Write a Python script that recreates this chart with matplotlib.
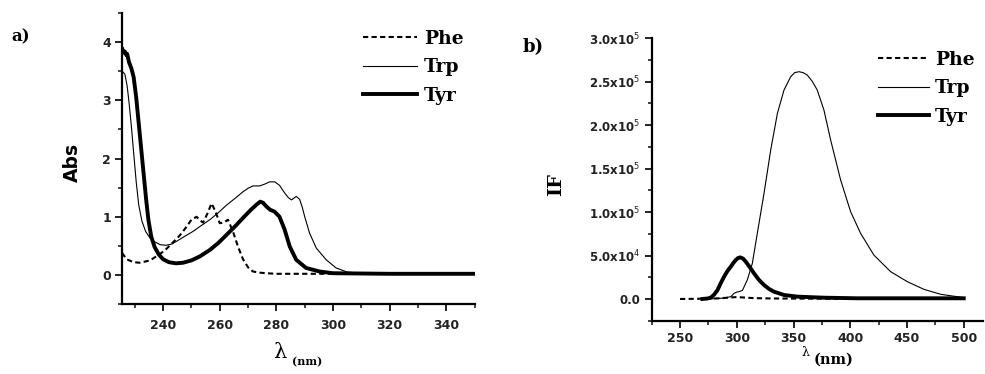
import matplotlib.pyplot as plt
from matplotlib.ticker import MultipleLocator, FuncFormatter

# ---- panel a: absorbance ----
phe_a_nm = [225.5, 227.1, 229.5, 231.8, 235.4, 238.9, 241.2, 243.5, 245.9, 248.3,
            250.0, 251.8, 253.0, 254.1, 255.6, 257.1, 258.4, 260.0, 261.5, 262.9,
            264.7, 266.5, 268.2, 270.0, 271.7, 274.0, 276.4, 280.0, 300.0, 325.0, 350.0]
phe_a = [0.38, 0.27, 0.22, 0.21, 0.25, 0.36, 0.45, 0.56, 0.68, 0.83,
         0.95, 1.00, 0.94, 0.90, 1.05, 1.23, 1.10, 0.89, 0.90, 0.95,
         0.74, 0.48, 0.27, 0.13, 0.06, 0.04, 0.03, 0.02, 0.02, 0.02, 0.02]

trp_a_nm = [225.6, 226.5, 227.3, 228.0, 228.8, 229.6, 230.5, 231.4, 232.5, 233.8,
            235.3, 237.0, 239.0, 241.0, 243.0, 244.8, 247.5, 250.6, 253.5, 256.5,
            259.5, 262.4, 265.5, 268.2, 270.0, 271.7, 274.1, 275.8, 277.6, 279.4,
            281.1, 282.9, 284.2, 285.3, 286.2, 287.0, 288.2, 289.1, 290.0, 291.7,
            294.1, 297.6, 301.1, 305.0, 310.0, 330.0, 350.0]
trp_a = [3.50, 3.45, 3.25, 2.95, 2.55, 2.10, 1.60, 1.20, 0.93, 0.75,
         0.64, 0.57, 0.52, 0.51, 0.53, 0.58, 0.66, 0.75, 0.85, 0.95,
         1.07, 1.20, 1.32, 1.43, 1.49, 1.53, 1.53, 1.56, 1.60, 1.60,
         1.54, 1.41, 1.33, 1.29, 1.32, 1.35, 1.30, 1.17, 1.00, 0.72,
         0.46, 0.26, 0.12, 0.05, 0.03, 0.02, 0.02]

tyr_a_nm = [225.6, 226.0, 226.5, 227.0, 227.3, 228.0, 228.8, 229.6, 230.5, 231.4,
            232.3, 233.2, 234.0, 234.8, 235.8, 237.0, 238.5, 240.0, 242.0, 244.5,
            247.0, 250.0, 253.0, 256.5, 259.5, 262.4, 265.5, 268.2, 271.0, 273.0,
            274.3, 275.3, 276.4, 277.8, 279.3, 281.1, 282.9, 284.7, 287.0, 290.5,
            295.2, 300.0, 320.0, 350.0]
tyr_a = [3.88, 3.82, 3.84, 3.78, 3.80, 3.65, 3.55, 3.40, 3.05, 2.60,
         2.15, 1.70, 1.30, 0.95, 0.66, 0.48, 0.35, 0.27, 0.22, 0.20,
         0.21, 0.25, 0.32, 0.43, 0.55, 0.69, 0.84, 0.98, 1.12, 1.21,
         1.26, 1.24, 1.18, 1.12, 1.09, 1.00, 0.78, 0.49, 0.26, 0.12,
         0.06, 0.03, 0.02, 0.02]

# ---- panel b: fluorescence intensity ----
phe_b_nm = [250, 270, 285, 295, 300, 305, 315, 330, 360, 400, 450, 500]
phe_b = [0, 300, 800, 1800, 2200, 1800, 1000, 600, 400, 300, 200, 100]

trp_b_nm = [271.0, 280.0, 288.8, 294.7, 297.6, 300.0, 302.0, 305.0, 309.3, 313.7,
            318.1, 324.0, 329.9, 335.8, 341.6, 347.5, 351.0, 354.8, 358.5, 362.1,
            366.5, 370.9, 376.8, 382.7, 391.5, 400.3, 409.1, 420.8, 435.5, 450.2,
            464.9, 479.7, 500.2]
trp_b = [0, 300, 1000, 2700, 6500, 8000, 8400, 10000, 22000, 41000,
         75600, 121600, 171500, 213700, 240500, 255800, 260500, 261600, 260500, 257800,
         250500, 240500, 217500, 183000, 137000, 100500, 75600, 50600, 31500, 20000,
         11100, 5400, 1500]

tyr_b_nm = [269.7, 274.0, 277.0, 280.0, 282.9, 285.8, 288.8, 291.7, 294.7, 297.0,
            299.1, 301.0, 303.0, 305.5, 307.9, 311.5, 315.2, 319.5, 324.0, 328.5,
            332.8, 341.6, 353.3, 376.8, 406.2, 450.0, 500.0]
tyr_b = [0, 500, 1500, 5000, 10000, 18000, 25700, 32000, 37200, 41500,
         44900, 47000, 47900, 46500, 43000, 36500, 29500, 22000, 16100, 11500,
         8400, 4600, 2700, 1500, 800, 800, 800]

serif = 'DejaVu Serif'

fig = plt.figure(figsize=(9.85, 3.74), dpi=100)
ax1 = fig.add_axes([0.1239, 0.187, 0.358, 0.778])
ax2 = fig.add_axes([0.6616, 0.1425, 0.3364, 0.755])

for ax in (ax1, ax2):
    ax.spines['top'].set_visible(False)
    ax.spines['right'].set_visible(False)
    ax.spines['left'].set_linewidth(1.6)
    ax.spines['bottom'].set_linewidth(1.6)
    ax.tick_params(which='major', direction='out', length=5, width=1.4, colors='#222222')
    ax.tick_params(which='minor', direction='out', length=3, width=1.2, colors='#222222')
    for lab in ax.get_xticklabels() + ax.get_yticklabels():
        lab.set_fontweight('bold')

# panel a
ax1.plot(phe_a_nm, phe_a, color='black', lw=1.5, ls=(0, (2.5, 1.6)), label='Phe')
ax1.plot(trp_a_nm, trp_a, color='black', lw=0.8, label='Trp')
ax1.plot(tyr_a_nm, tyr_a, color='black', lw=2.8, label='Tyr')
ax1.set_xlim(225.5, 350)
ax1.set_ylim(-0.5, 4.5)
ax1.xaxis.set_major_locator(MultipleLocator(20))
ax1.xaxis.set_minor_locator(MultipleLocator(10))
ax1.yaxis.set_major_locator(MultipleLocator(1))
ax1.yaxis.set_minor_locator(MultipleLocator(0.5))
ax1.tick_params(axis='x', which='major', pad=6, labelsize=9)
ax1.tick_params(axis='y', which='major', pad=3, labelsize=9)
for lab in ax1.get_xticklabels() + ax1.get_yticklabels():
    lab.set_fontweight('bold')

# panel b
ax2.plot(phe_b_nm, phe_b, color='black', lw=1.5, ls=(0, (2.5, 1.6)), label='Phe')
ax2.plot(trp_b_nm, trp_b, color='black', lw=0.8, label='Trp')
ax2.plot(tyr_b_nm, tyr_b, color='black', lw=2.8, label='Tyr')
ax2.set_xlim(225, 517)
ax2.set_ylim(-25000, 300000)
ax2.xaxis.set_major_locator(MultipleLocator(50))
ax2.xaxis.set_minor_locator(MultipleLocator(25))
ax2.yaxis.set_major_locator(MultipleLocator(50000))
ax2.yaxis.set_minor_locator(MultipleLocator(25000))


def sci_fmt(v, pos):
    if abs(v) < 1:
        return '0.0'
    exp = len(str(int(v))) - 1
    return '%.1fx10$^{%d}$' % (v / 10 ** exp, exp)


ax2.yaxis.set_major_formatter(FuncFormatter(sci_fmt))
ax2.tick_params(axis='x', which='major', pad=3, labelsize=9)
ax2.tick_params(axis='y', which='major', pad=3, labelsize=8.5)
for lab in ax2.get_xticklabels() + ax2.get_yticklabels():
    lab.set_fontweight('bold')

# legends
leg_kw = dict(frameon=False, loc='upper left', borderpad=0, borderaxespad=0,
              handletextpad=0.35, labelspacing=0.55,
              prop={'family': serif, 'weight': 'bold', 'size': 13.5},
              bbox_transform=fig.transFigure)
ax1.legend(handlelength=2.9, bbox_to_anchor=(363 / 985, 1 - 30 / 374), **leg_kw)
ax2.legend(handlelength=2.7, bbox_to_anchor=(878 / 985, 1 - 51 / 374), **leg_kw)

# axis labels and panel letters
fig.text(72 / 985, 1 - 162 / 374, 'Abs', rotation=90, ha='center', va='center',
         fontsize=13.5, fontweight='bold')
fig.text(556 / 985, 1 - 185 / 374, 'IF', rotation=90, ha='center', va='center',
         fontsize=14, fontweight='bold', family=serif)
fig.text(280 / 985, 1 - 353 / 374, 'λ', ha='center', va='center', fontsize=15, family=serif)
fig.text(307 / 985, 1 - 362 / 374, '(nm)', ha='center', va='center', fontsize=8,
         fontweight='bold', family=serif)
fig.text(805 / 985, 1 - 352 / 374, 'λ', ha='center', va='center', fontsize=9, family=serif)
fig.text(834 / 985, 1 - 360 / 374, '(nm)', ha='center', va='center', fontsize=10.5,
         fontweight='bold', family=serif)
fig.text(21 / 985, 1 - 37 / 374, 'a)', ha='center', va='center', fontsize=12,
         fontweight='bold', family=serif)
fig.text(533 / 985, 1 - 47 / 374, 'b)', ha='center', va='center', fontsize=13,
         fontweight='bold', family=serif)

fig.savefig('out.png', dpi=100)
